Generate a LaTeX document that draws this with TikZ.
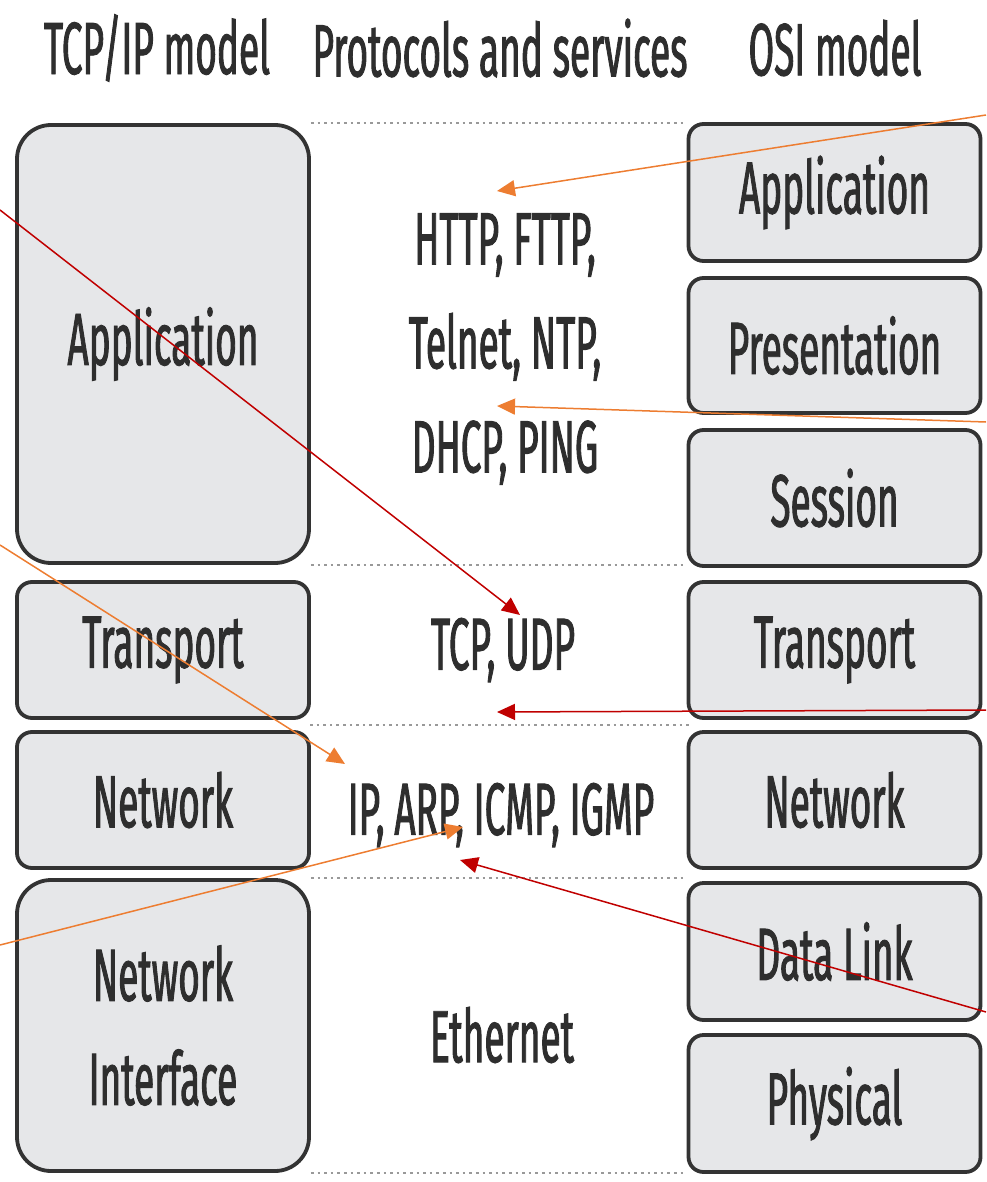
\documentclass[tikz,border=0pt]{standalone}
\usepackage{fontspec}
\usetikzlibrary{arrows.meta}
\newfontfamily\condfont{Fira Sans}[FakeStretch=0.5, FakeBold=1.2]
\definecolor{boxfill}{HTML}{E6E7E9}
\definecolor{boxline}{HTML}{333333}
\definecolor{arrorange}{HTML}{ED7D31}
\definecolor{arrred}{HTML}{C00000}
\tikzset{
  label font/.style={font=\condfont\fontsize{37}{52}\selectfont, text=black!82},
  layerbox/.style={draw=boxline, line width=1.9pt, fill=boxfill, rounded corners=7.5pt,
    minimum width=146pt, label font, align=center, inner sep=0pt},
  bigbox/.style={layerbox, rounded corners=17pt},
  proto/.style={label font, align=center, inner sep=0pt},
  sepline/.style={draw=black!40, line width=1.3pt, dotted},
  orangearrow/.style={draw=arrorange, line width=0.75pt, -{Triangle[length=9pt,width=8pt]}},
  redarrow/.style={draw=arrred, line width=0.75pt, -{Triangle[length=9pt,width=8pt]}},
}
\begin{document}
\begin{tikzpicture}[x=0.5pt, y=-0.5pt]
\useasboundingbox (0,0) rectangle (986,1182);

% column headings
\node[proto] (h1) at (157,48) {TCP/IP model};
\node[proto] (h2) at (500,48) {Protocols and services};
\node[proto] (h3) at (835,48) {OSI model};

% TCP/IP model layers
\node[bigbox, minimum height=219pt] (lapp) at (163,344) {Application};
\node[layerbox, minimum height=68pt] (ltra) at (163,650) {Transport};
\node[layerbox, minimum height=68pt] (lnet) at (163,800) {Network};
\node[bigbox, minimum height=145.5pt] (lnif) at (163,1025.5) {Network\\Interface};

% OSI model layers
\node[layerbox, minimum height=68.5pt] (rapp) at (834.5,192.5) {Application};
\node[layerbox, minimum height=67.5pt] (rpre) at (834.5,345.5) {Presentation};
\node[layerbox, minimum height=68pt] (rses) at (834.5,498) {Session};
\node[layerbox, minimum height=68pt] (rtra) at (834.5,650) {Transport};
\node[layerbox, minimum height=68pt] (rnet) at (834.5,800) {Network};
\node[layerbox, minimum height=68.5pt] (rdl) at (834.5,951.5) {Data Link};
\node[layerbox, minimum height=68.5pt] (rphy) at (834.5,1103.5) {Physical};

% dotted separators between the columns
\draw[sepline] (lapp.north east) -- (lapp.north east -| rapp.west);
\draw[sepline] (lapp.south east) -- (lapp.south east -| rses.west);
\draw[sepline] (310,725) -- (689,725);
\draw[sepline] (lnif.north east) -- (lnif.north east -| rdl.west);
\draw[sepline] (lnif.south east) -- (lnif.south east -| rphy.west);

% protocols and services
\node[proto] (papp) at (505,349) {HTTP, FTTP,\\Telnet, NTP,\\DHCP, PING};
\node[proto] (ptra) at (503,650) {TCP, UDP};
\node[proto] (pnet) at (501,815) {IP, ARP, ICMP, IGMP};
\node[proto] (peth) at (502,1035) {Ethernet};

% arrow ends
\coordinate (s1) at (986,115);  \coordinate (t1) at (497,191);
\coordinate (s2) at (986,422);  \coordinate (t2) at (497,406);
\coordinate (s3) at (0,210);    \coordinate (t3) at (520,615);
\coordinate (s4) at (986,710);  \coordinate (t4) at (497,712);
\coordinate (s5) at (0,545);    \coordinate (t5) at (345,764);
\coordinate (s6) at (0,945);    \coordinate (t6) at (463,827);
\coordinate (s7) at (986,1012); \coordinate (t7) at (460,860);

\draw[orangearrow] (s1) -- (t1);
\draw[orangearrow] (s2) -- (t2);
\draw[redarrow] (s3) -- (t3);
\draw[redarrow] (s4) -- (t4);
\draw[orangearrow] (s5) -- (t5);
\draw[orangearrow] (s6) -- (t6);
\draw[redarrow] (s7) -- (t7);
\end{tikzpicture}
\end{document}
